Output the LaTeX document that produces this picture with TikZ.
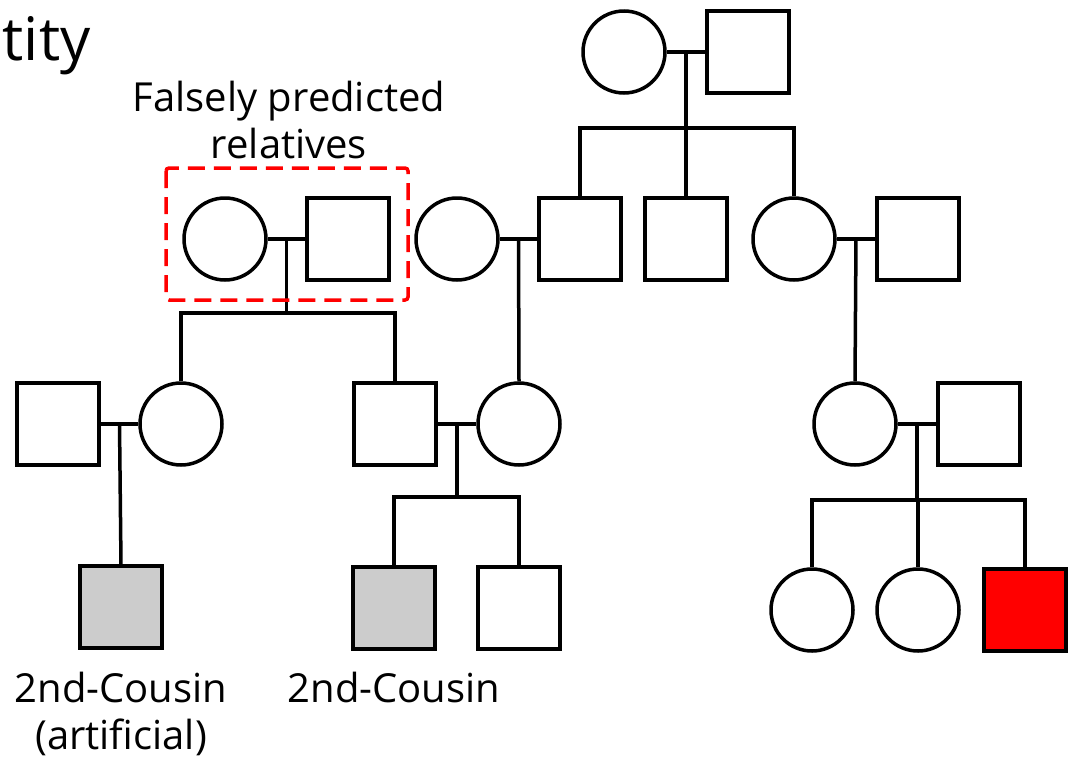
\documentclass[tikz,border=0pt]{standalone}
\usepackage{fontspec}
\setmainfont{Open Sans}
\usetikzlibrary{calc}
\begin{document}
\begin{tikzpicture}[x=1pt,y=-1pt,
  line width=3.5pt,
  male/.style={draw, rectangle, minimum size=82pt, inner sep=0pt, fill=white},
  female/.style={draw, circle, minimum size=82pt, inner sep=0pt, fill=white},
  affected/.style={fill=red},
  match/.style={fill=black!20},
  label/.style={font=\fontsize{40}{47}\selectfont, align=center, inner sep=0pt},
  fpbox/.style={draw=red, dash pattern=on 17pt off 9pt, rounded corners=3pt}
]
\useasboundingbox (0,0) rectangle (1076,758);

% heading fragment
\node[anchor=base west, inner sep=0pt, font=\fontsize{60}{70}\selectfont] (title) at (1,60) {tity};

% generation 1
\node[female] (g1f) at (624,52) {};
\node[male]   (g1m) at (748,52) {};

% generation 2
\node[female] (fpf) at (225,239) {};
\node[male]   (fpm) at (348,239) {};
\node[female] (w2)  at (457,239) {};
\node[male]   (s2a) at (580,239) {};
\node[male]   (s2b) at (686,239) {};
\node[female] (d2)  at (794,239) {};
\node[male]   (h2)  at (918,239) {};

% generation 3
\node[male]   (h3a) at (58,424) {};
\node[female] (d3a) at (181,424) {};
\node[male]   (s3b) at (395,424) {};
\node[female] (d3b) at (519,424) {};
\node[female] (d3c) at (855,424) {};
\node[male]   (h3c) at (979,424) {};

% generation 4
\node[male, match] (c4a) at (121,607) {};
\node[male, match] (c4b) at (394,608) {};
\node[male]        (c4c) at (519,608) {};
\node[female]      (c4d) at (812,610) {};
\node[female]      (c4e) at (918,610) {};
\node[male, affected] (c4f) at (1025,610) {};

% marriage lines and their midpoints
\foreach \a/\b/\m in {g1f/g1m/m1, fpf/fpm/mfp, w2/s2a/m2, d2/h2/m3, h3a/d3a/m4, s3b/d3b/m5, d3c/h3c/m6}{
  \draw (\a.east) -- (\b.west);
  \coordinate (\m) at ($(\a.east)!0.5!(\b.west)$);
}

% sibship levels
\coordinate (sib1) at (0,128);
\coordinate (sibfp) at (0,313);
\coordinate (sib5) at (0,497);
\coordinate (sib6) at (0,500);

% descent from generation 1
\draw (m1) -- (m1 |- sib1);
\draw (s2a.north) |- (d2.north |- sib1) -- (d2.north);
\draw (s2b.north) -- (s2b.north |- sib1);

% descent from the falsely predicted couple
\draw (mfp) -- (mfp |- sibfp);
\draw (d3a.north) |- (s3b.north |- sibfp) -- (s3b.north);

% single-child lines
\draw (m2) -- (d3b.north);
\draw (m3) -- (d3c.north);
\draw (m4) -- (c4a.north);

% descent from the middle couple
\draw (m5) -- (m5 |- sib5);
\draw (c4b.north) |- (c4c.north |- sib5) -- (c4c.north);

% descent from the right couple
\draw (m6) -- (m6 |- sib6);
\draw (c4d.north) |- (c4f.north |- sib6) -- (c4f.north);
\draw (c4e.north) -- (c4e.north |- sib6);

% falsely predicted relatives
\draw[fpbox] (166,168) rectangle (408,300);
\node[label, anchor=north] (fplabel) at (289,79) {Falsely predicted\\relatives};

% match labels
\node[label, anchor=north] (la) at (c4a.south |- 0,670) {2nd-Cousin\\(artificial)};
\node[label, anchor=north] (lb) at (c4b.south |- 0,670) {2nd-Cousin};
\end{tikzpicture}
\end{document}
